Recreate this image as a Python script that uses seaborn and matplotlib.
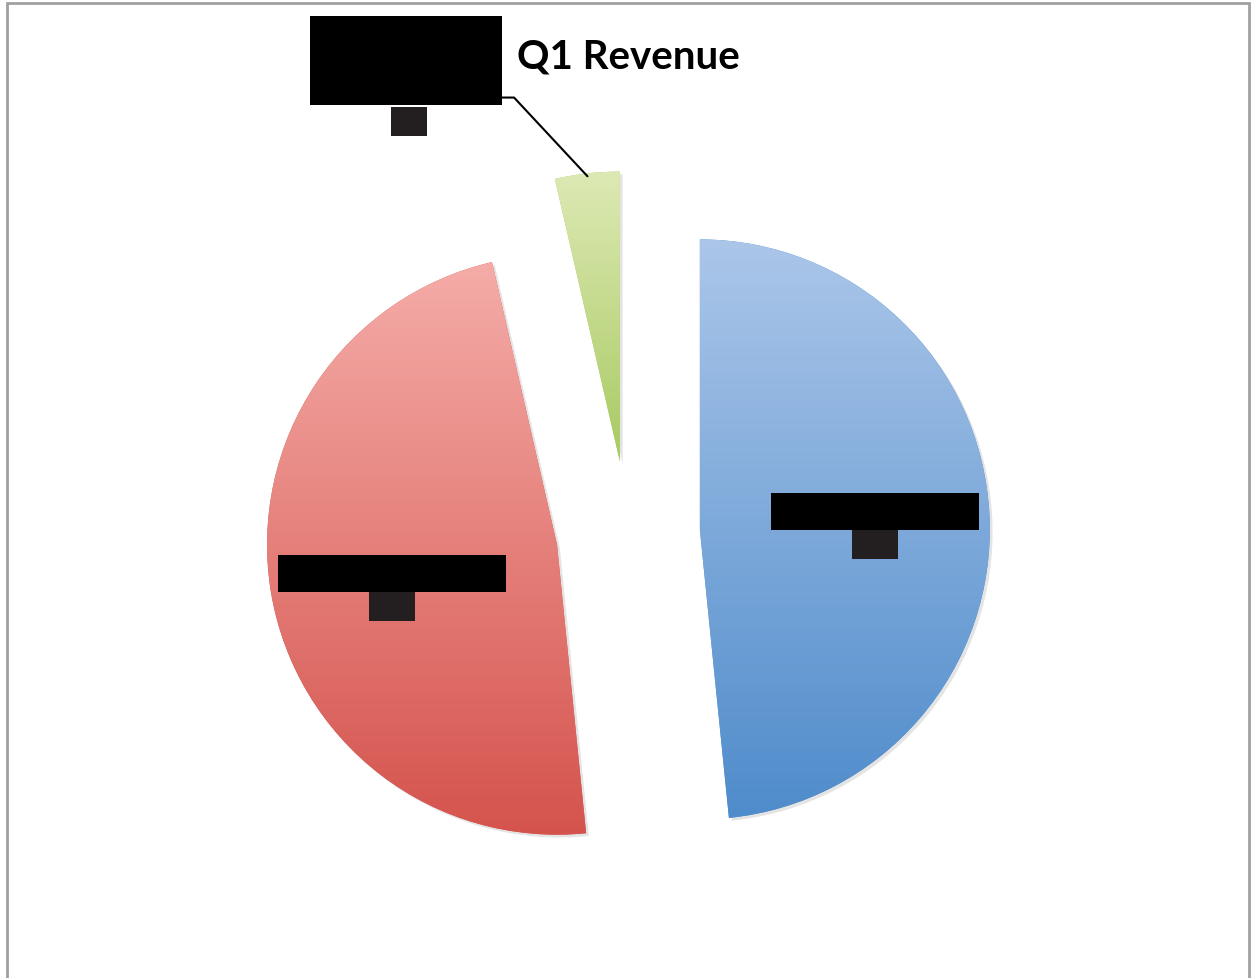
import numpy as np
import matplotlib
matplotlib.use("Agg")
import matplotlib.pyplot as plt
import matplotlib.patheffects as pe
from matplotlib.colors import to_rgb
from matplotlib.patches import Rectangle
import seaborn as sns

# -------------------------------
# DATA
# -------------------------------
segments = ["Enterprise Clients", "Retail & Store Sales", "Partner Channel\nand Licensing"]
revenue_share = [48.4, 48.0, 3.6]
explode = [0.248, 0.248, 0.248]
top_colors = ["#abc6e9", "#f5aca8", "#dde9b4"]
bottom_colors = ["#4f8ccb", "#d5534d", "#a8ca62"]
title = "Q1 Revenue"

# label anchors (data units) for the two big slices; bottom-centre of the name box
label_anchor = [(0.852, 0.010), (-0.814, -0.203)]

sns.set_theme(style="white")
plt.rcParams['font.family'] = ['Lato', 'DejaVu Sans']

fig = plt.figure(figsize=(12.51, 9.79), dpi=100)
ax = fig.add_axes([0, 0, 1, 1])

wedges, _ = ax.pie(revenue_share, explode=explode, startangle=90,
                   counterclock=False, radius=1.0,
                   colors=bottom_colors,
                   wedgeprops=dict(linewidth=0))

# -------------------------------
# GRADIENT FILL + SOFT SHADOW
# -------------------------------
for w, c_top, c_bot in zip(wedges, top_colors, bottom_colors):
    w.set_path_effects([pe.SimplePatchShadow(offset=(2, -2), shadow_rgbFace='#888888', alpha=0.22),
                        pe.Normal()])
    ext = w.get_path().get_extents()
    t = np.linspace(0, 1, 256)[:, None, None]
    grad = (1 - t) * np.array(to_rgb(c_top)) + t * np.array(to_rgb(c_bot))
    im = ax.imshow(grad, extent=[ext.x0, ext.x1, ext.y0, ext.y1], origin='upper',
                   aspect='auto', zorder=w.get_zorder() + 0.1, interpolation='bilinear')
    im.set_clip_path(w)

# -------------------------------
# LABELS (redacted look: black name box, dark percent box)
# -------------------------------
name_fs, name_pad = 18, 0.28
pct_fs, pct_pad = 12, 0.4
name_box = dict(boxstyle=f'square,pad={name_pad}', fc='black', ec='none')
pct_box = dict(boxstyle=f'square,pad={pct_pad}', fc='#231f20', ec='none')

for (lx, ly), name, val in zip(label_anchor, segments[:2], revenue_share[:2]):
    ax.annotate(name, xy=(lx, ly), xytext=(0, name_fs * name_pad), textcoords='offset points',
                ha='center', va='bottom', fontsize=name_fs, color='black',
                bbox=name_box, zorder=10)
    ax.annotate(f"{val:.0f}%", xy=(lx, ly), xytext=(0, -pct_fs * pct_pad), textcoords='offset points',
                ha='center', va='top', fontsize=pct_fs, color='#231f20',
                bbox=pct_box, zorder=9)

# small slice: label outside with a leader line
w = wedges[2]
mid = np.deg2rad((w.theta1 + w.theta2) / 2)
cx, cy = w.center
tip = (cx + 0.99 * np.cos(mid), cy + 0.99 * np.sin(mid))
ax.annotate(segments[2], xy=tip, xytext=(-0.766, 1.630), ha='center', va='center',
            fontsize=name_fs, color='black', linespacing=2.5, bbox=name_box, zorder=10,
            arrowprops=dict(arrowstyle='-', color='black', lw=1.5, relpos=(1, 0.0),
                            shrinkA=0, shrinkB=0,
                            connectionstyle='angle,angleA=0,angleB=133,rad=0'))
ax.annotate(f"{revenue_share[2]:.0f}%", xy=(-0.755, 1.469), xytext=(0, -pct_fs * pct_pad),
            textcoords='offset points', ha='center', va='top', fontsize=pct_fs,
            color='#231f20', bbox=pct_box, zorder=9)

# axis scaling so the pie sits where the reference has it
ax.set_xlim(-2.1655, 2.1483)
ax.set_ylim(-1.5345, 1.8414)
ax.set_aspect('auto')
ax.axis('off')

fig.text(628 / 1251, 1 - 57 / 979, title, ha='center', va='center',
         fontsize=29, fontweight='bold', color='black')

# chart frame
fig.patches.append(Rectangle((7 / 1251, -0.02), (1249 - 7) / 1251, 1.02 - 3.5 / 979,
                             transform=fig.transFigure, fill=False,
                             edgecolor='#a0a0a0', linewidth=2))

fig.savefig('out.png', dpi=100)
